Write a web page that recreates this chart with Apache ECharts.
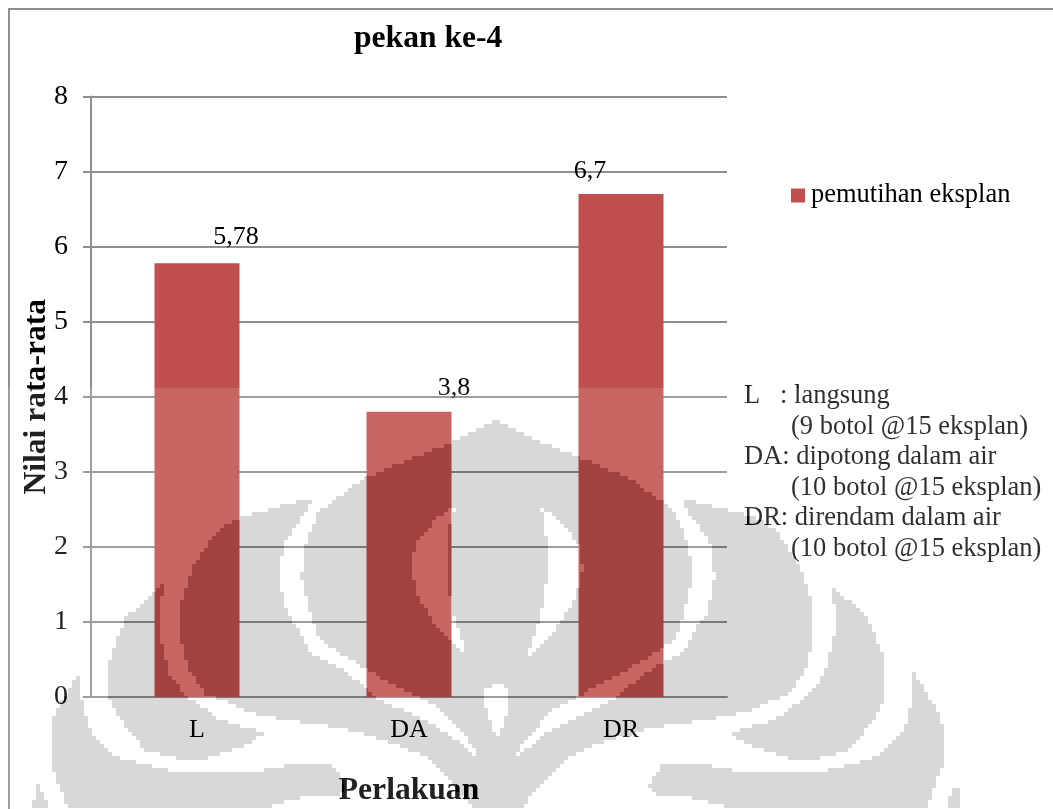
<!DOCTYPE html>
<html>
<head>
<meta charset="utf-8">
<title>pekan ke-4</title>
<script src="https://cdn.jsdelivr.net/npm/echarts@6/dist/echarts.min.js"></script>
<style>
html, body { margin: 0; padding: 0; background: #fff; }
#chart { width: 1053px; height: 809px; }
</style>
</head>
<body>
<div id="chart"></div>
<script>
// Chart content
const chartTitle = 'pekan ke-4';
const seriesName = 'pemutihan eksplan';
const categories = ['L', 'DA', 'DR'];
const values = [5.78, 3.8, 6.7];
const yTicks = [0, 1, 2, 3, 4, 5, 6, 7, 8];
const xAxisTitle = 'Perlakuan';
const yAxisTitle = 'Nilai rata-rata';
const noteLines = [
  'L   : langsung',
  '(9 botol @15 eksplan)',
  'DA: dipotong dalam air',
  '(10 botol @15 eksplan)',
  'DR: direndam dalam air',
  '(10 botol @15 eksplan)'
];

// Horizontal and vertical nudge of each value label from its bar top
const labelShift = [[39, -8], [45, -6], [-31, -5]];

const SERIF = '"Liberation Serif", "Times New Roman", serif';
const GRID_GREY = '#8f8f8f';

// University emblem behind the page: left half of each shape, mirrored about x = 497
const emblemShapes = [
  [[497,420],[476,431],[452,442],[367,477],[338,497],[318,513],[306,543],[301,577],[311,617],[319,640],[367,670],[417,697],[439,708],[466,737],[483,762],[497,762]],
  [[312,498],[240,517],[216,532],[193,567],[182,600],[182,647],[189,670],[206,695],[222,700],[247,712],[287,720],[343,728],[393,743],[427,757],[447,777],[473,809],[497,809],[497,737],[483,762],[447,733],[410,713],[380,700],[367,687],[338,667],[311,653],[297,627],[287,613],[279,577],[284,543],[312,503]],
  [[165,583],[155,592],[126,617],[110,657],[108,697],[118,717],[145,750],[182,760],[207,758],[247,745],[265,733],[220,720],[193,700],[187,697],[169,673],[159,633],[159,607]],
  [[81,670],[53,717],[50,743],[52,767],[68,809],[260,809],[300,798],[338,797],[345,785],[333,765],[303,763],[277,767],[250,773],[190,773],[167,770],[120,758],[110,752],[90,730],[82,700]],
  [[37,780],[33,809],[49,809]]
];
const emblemHoles = [
  [[462,502],[437,518],[416,543],[411,567],[418,597],[437,627],[467,657],[452,610],[447,577],[447,543],[452,513]],
  [[497,683],[486,690],[486,705],[492,725],[497,737],[502,725],[508,705],[508,690]]
];

const EMBLEM_CELL = 4;

function tracePolygon(ctx, pts, mirror) {
  ctx.beginPath();
  pts.forEach(function (p, i) {
    const x = (mirror ? 994 - p[0] : p[0]) / EMBLEM_CELL;
    const y = p[1] / EMBLEM_CELL;
    if (i === 0) { ctx.moveTo(x, y); } else { ctx.lineTo(x, y); }
  });
  ctx.closePath();
}

// Paints the emblem overlay: a faint veil below y = 388 with coarse grey shapes on top of it
function buildEmblem() {
  const w = 1053, h = 809;
  const small = document.createElement('canvas');
  small.width = Math.ceil(w / EMBLEM_CELL);
  small.height = Math.ceil(h / EMBLEM_CELL);
  const s = small.getContext('2d', { willReadFrequently: true });
  s.fillStyle = '#000';
  emblemShapes.forEach(function (poly) {
    [false, true].forEach(function (mirror) { tracePolygon(s, poly, mirror); s.fill(); });
  });
  s.globalCompositeOperation = 'destination-out';
  emblemHoles.forEach(function (poly) {
    [false, true].forEach(function (mirror) { tracePolygon(s, poly, mirror); s.fill(); });
  });
  s.globalCompositeOperation = 'source-over';

  // Hard-edge the low-resolution mask so it enlarges into square cells
  const img = s.getImageData(0, 0, small.width, small.height);
  for (let i = 3; i < img.data.length; i += 4) {
    img.data[i] = img.data[i] >= 128 ? 255 : 0;
  }
  s.putImageData(img, 0, 0);

  const mask = document.createElement('canvas');
  mask.width = w; mask.height = h;
  const m = mask.getContext('2d');
  m.imageSmoothingEnabled = false;
  m.drawImage(small, 0, 0, small.width * EMBLEM_CELL, small.height * EMBLEM_CELL);

  const out = document.createElement('canvas');
  out.width = w; out.height = h;
  const c = out.getContext('2d');
  c.fillStyle = 'rgba(255,255,255,0.127)';
  c.fillRect(0, 388, w, h - 388);
  c.globalCompositeOperation = 'destination-out';
  c.drawImage(mask, 0, 0);
  c.globalCompositeOperation = 'source-over';
  c.globalAlpha = 0.153;
  c.drawImage(mask, 0, 0);
  return out;
}

const chart = echarts.init(document.getElementById('chart'), null, { renderer: 'canvas' });

const noteGraphics = noteLines.map(function (line, i) {
  const indented = line.charAt(0) === '(';
  return {
    type: 'text',
    silent: true,
    z: 10,
    x: indented ? 791 : 744,
    y: 396 + i * 30.6,
    style: {
      text: line,
      fill: '#111',
      font: '26.5px ' + SERIF,
      verticalAlign: 'middle'
    }
  };
});

chart.setOption({
  animation: false,
  backgroundColor: '#fff',
  title: {
    text: chartTitle,
    left: 349,
    top: 18,
    textStyle: { fontFamily: SERIF, fontSize: 31.6, fontWeight: 'bold', color: '#000' }
  },
  legend: {
    left: 786,
    top: 177,
    selectedMode: false,
    itemWidth: 14,
    itemHeight: 14,
    itemGap: 0,
    textStyle: { fontFamily: SERIF, fontSize: 26.5, color: '#000', padding: [0, 0, 0, 1] },
    data: [{ name: seriesName, icon: 'rect' }]
  },
  grid: { left: 91, right: 326, top: 96.5, bottom: 112, containLabel: false, outerBoundsMode: 'none' },
  xAxis: {
    type: 'category',
    data: categories,
    name: xAxisTitle,
    nameLocation: 'middle',
    nameGap: 78,
    nameMoveOverlap: false,
    nameTextStyle: { fontFamily: SERIF, fontSize: 31.6, fontWeight: 'bold', color: '#000' },
    axisLine: { lineStyle: { color: GRID_GREY, width: 2 } },
    axisTick: { show: false },
    axisLabel: { fontFamily: SERIF, fontSize: 26, color: '#000', margin: 20 }
  },
  yAxis: {
    type: 'value',
    min: yTicks[0],
    max: yTicks[yTicks.length - 1],
    interval: 1,
    name: yAxisTitle,
    nameLocation: 'middle',
    nameGap: 38,
    nameRotate: 90,
    nameMoveOverlap: false,
    nameTextStyle: { fontFamily: SERIF, fontSize: 31.6, fontWeight: 'bold', color: '#000' },
    axisLine: { show: true, onZero: false, lineStyle: { color: GRID_GREY, width: 2 } },
    axisTick: { show: true, length: 8, lineStyle: { color: GRID_GREY, width: 2 } },
    axisLabel: { fontFamily: SERIF, fontSize: 28, color: '#000', margin: 23 },
    splitLine: { show: true, lineStyle: { color: GRID_GREY, width: 2 } }
  },
  series: [{
    type: 'bar',
    name: seriesName,
    barWidth: 85,
    itemStyle: { color: '#c0504d' },
    label: {
      show: true,
      position: 'top',
      fontFamily: SERIF,
      fontSize: 26,
      color: '#000',
      formatter: function (p) { return String(p.value).replace('.', ','); }
    },
    data: values.map(function (v, i) {
      return { value: v, label: { offset: labelShift[i] } };
    })
  }],
  graphic: [
    {
      type: 'rect',
      silent: true,
      z: -1,
      shape: { x: 9, y: 9, width: 1200, height: 1000 },
      style: { fill: 'none', stroke: GRID_GREY, lineWidth: 2 }
    },
    {
      type: 'image',
      silent: true,
      z: 100,
      x: 0,
      y: 0,
      style: { image: buildEmblem(), x: 0, y: 0, width: 1053, height: 809 }
    }
  ].concat(noteGraphics)
});
</script>
</body>
</html>
